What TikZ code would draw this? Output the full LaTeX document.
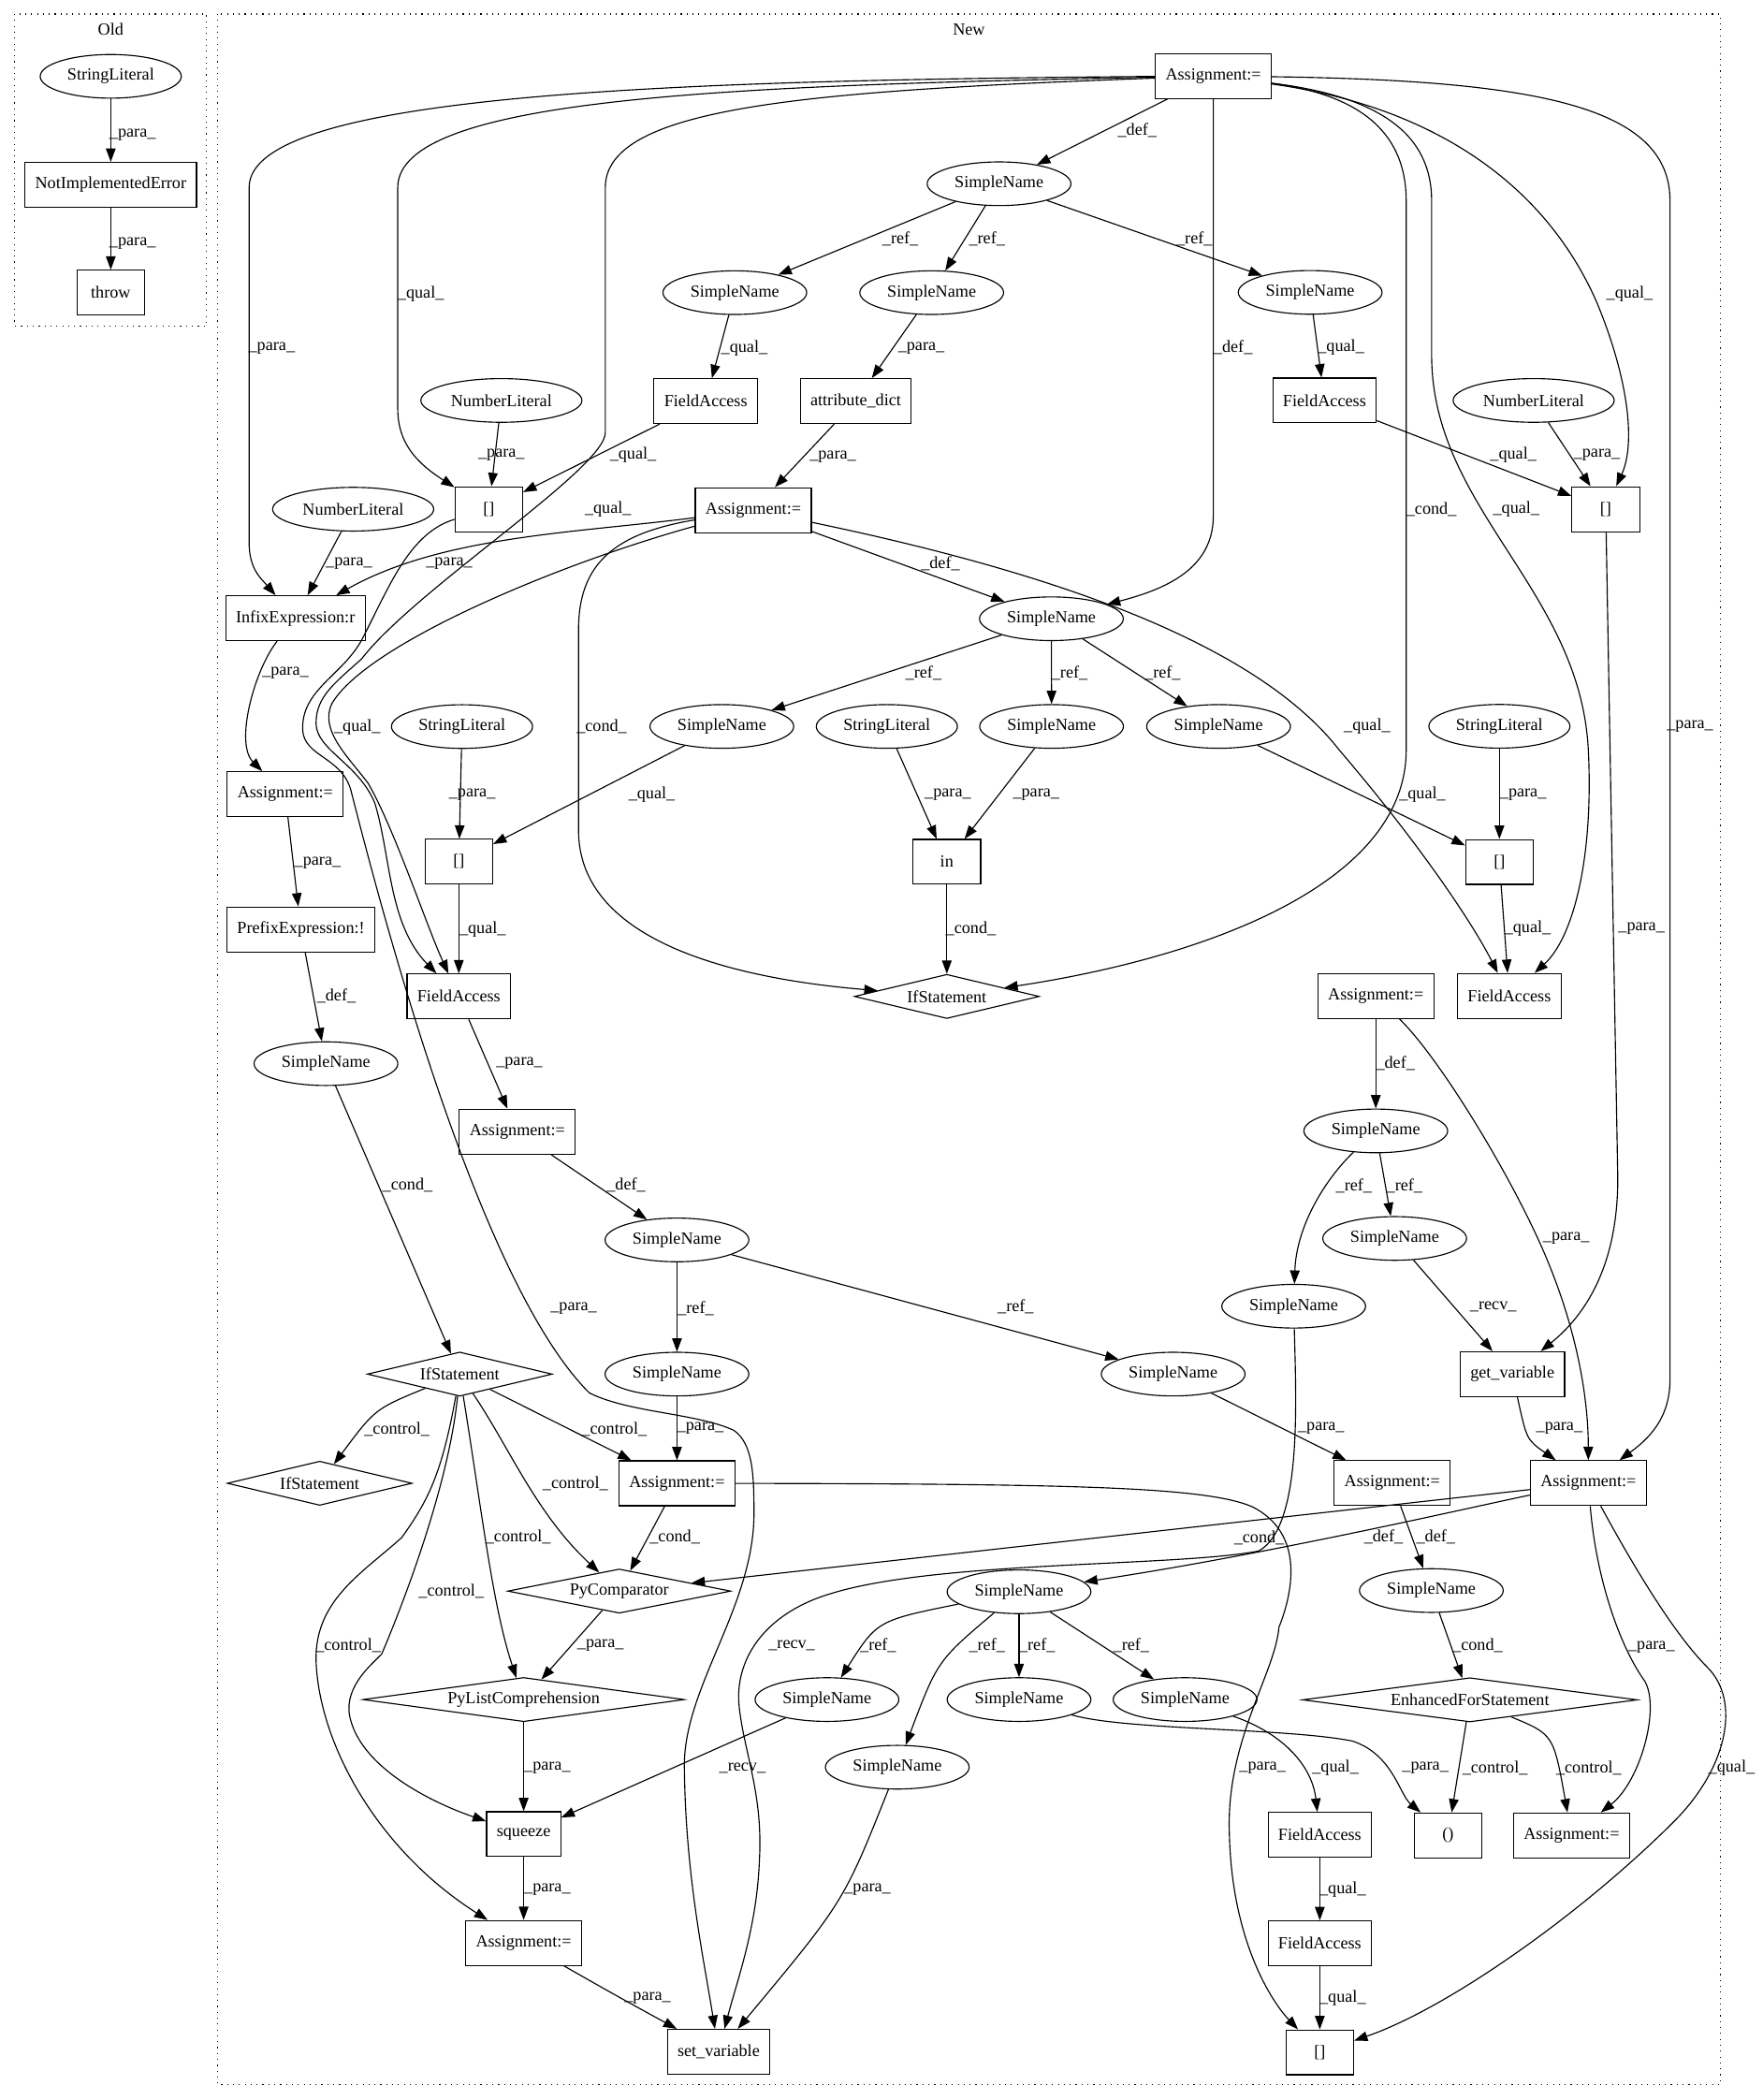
\documentclass[tikz,border=0pt]{standalone}
\usepackage{fontspec}
\setmainfont{Liberation Serif}
\usepackage{tikz}
\usetikzlibrary{arrows.meta,shapes.geometric}
\newcommand{\gvfont}{\fontsize{12.7pt}{15pt}\selectfont}
\tikzset{
  box/.style={draw,rectangle,line width=0.8pt,minimum width=50.5pt,
              minimum height=33.5pt,inner xsep=7.6pt,inner ysep=2pt,
              font=\gvfont},
  oval/.style={draw,ellipse,line width=0.8pt,minimum height=32.6pt,
               inner xsep=4.8pt,inner ysep=1pt,font=\gvfont},
  rhomb/.style={draw,diamond,line width=0.8pt,aspect=6,inner sep=0pt,
                minimum width=#1,minimum height=33pt,font=\gvfont},
  flow/.style={-{Triangle[length=10pt,width=7.2pt]},line width=0.8pt},
  lbl/.style={font=\gvfont,inner sep=0pt},
  cluster/.style={line width=0.8pt,dash pattern=on 0.8pt off 3.6pt}
}
\begin{document}
\begin{tikzpicture}[x=1pt,y=-1pt]
  \path[use as bounding box] (0,0) rectangle (1316,1568);
  \draw[cluster] (11,10.5) rectangle (154.2,243.4);
  \draw[cluster] (162.5,10.5) rectangle (1284.5,1556.6);
  \node[lbl] (oldTitle) at (82.7,22) {Old};
  \node[lbl] (newTitle) at (723.5,22) {New};

  \node[oval] (oStr) at (82.7,57) {StringLiteral};
  \node[box] (oNIE) at (82.7,138) {NotImplementedError};
  \node[box] (oThrow) at (82.7,218.5) {throw};

  \node[box] (asgTop) at (906,56.7) {Assignment:=};
  \node[oval] (snTop) at (746,137.2) {SimpleName};
  \node[oval] (snA) at (548.7,218.5) {SimpleName};
  \node[oval] (snB) at (695.7,218.5) {SimpleName};
  \node[oval] (snC) at (978.3,218.3) {SimpleName};
  \node[oval] (numA) at (374.4,299) {NumberLiteral};
  \node[box] (faA) at (527,299.5) {FieldAccess};
  \node[box] (attr) at (639,299.5) {attribute\_dict};
  \node[box] (faB) at (989,299) {FieldAccess};
  \node[oval] (numB) at (1145.2,299) {NumberLiteral};
  \node[oval] (numC) at (263.7,380.2) {NumberLiteral};
  \node[box] (idxA) at (365,380.2) {[]};
  \node[box] (asgDict) at (562.5,380.9) {Assignment:=};
  \node[box] (idxB) at (1199,380.2) {[]};
  \node[box] (infix) at (220.6,461.6) {InfixExpression:r};
  \node[oval] (snDict) at (785.1,462) {SimpleName};
  \node[oval] (strA) at (345,542.5) {StringLiteral};
  \node[oval] (snD) at (539,542.4) {SimpleName};
  \node[oval] (strB) at (662.2,542.4) {StringLiteral};
  \node[oval] (snE) at (785.2,542.4) {SimpleName};
  \node[oval] (snF) at (909.9,542.4) {SimpleName};
  \node[oval] (strC) at (1119.6,542.3) {StringLiteral};
  \node[box] (asgInfix) at (213,593) {Assignment:=};
  \node[box] (idxC) at (342.6,643.4) {[]};
  \node[box] (inOp) at (707,643.5) {in};
  \node[box] (idxD) at (1119.6,643.6) {[]};
  \node[box] (prefix) at (224.7,694) {PrefixExpression:!};
  \node[box] (faC) at (342.6,744) {FieldAccess};
  \node[rhomb=138pt] (ifA) at (707,744) {IfStatement};
  \node[box] (asgVar) at (1027.3,743.6) {Assignment:=};
  \node[box] (faD) at (1127,743.6) {FieldAccess};
  \node[oval] (snNot) at (243.4,794.2) {SimpleName};
  \node[box] (asgFa) at (386.3,845) {Assignment:=};
  \node[oval] (snVar) at (1027.3,844.4) {SimpleName};
  \node[oval] (snG) at (505.5,925.8) {SimpleName};
  \node[oval] (snH) at (1041.4,924.7) {SimpleName};
  \node[oval] (snI) at (966,975.3) {SimpleName};
  \node[rhomb=138pt] (ifB) at (343.3,1026) {IfStatement};
  \node[oval] (snJ) at (505.5,1026) {SimpleName};
  \node[oval] (snK) at (876,1026) {SimpleName};
  \node[box] (getVar) at (1129.3,1026) {get\_variable};
  \node[rhomb=138pt] (ifC) at (238.7,1107.5) {IfStatement};
  \node[box] (asgSel) at (505.5,1107.5) {Assignment:=};
  \node[box] (asgK) at (1039.6,1107.4) {Assignment:=};
  \node[box] (asgGet) at (1186,1107.4) {Assignment:=};
  \node[rhomb=166.6pt] (pyCmp) at (462.4,1188) {PyComparator};
  \node[oval] (snL) at (760.9,1188.5) {SimpleName};
  \node[oval] (snM) at (1068.8,1187.6) {SimpleName};
  \node[rhomb=240pt] (pyList) at (391,1269) {PyListComprehension};
  \node[oval] (snN) at (617.5,1269) {SimpleName};
  \node[oval] (snO) at (760.9,1269) {SimpleName};
  \node[oval] (snP) at (884.9,1269) {SimpleName};
  \node[rhomb=250pt] (forStmt) at (1097.6,1269.2) {EnhancedForStatement};
  \node[oval] (snQ) at (670,1319.5) {SimpleName};
  \node[box] (squeeze) at (391,1369.5) {squeeze};
  \node[box] (faE) at (985.5,1370) {FieldAccess};
  \node[box] (paren) at (1081.2,1370.4) {()};
  \node[box] (asgFor) at (1173.5,1370.4) {Assignment:=};
  \node[box] (asgSq) at (391,1450.7) {Assignment:=};
  \node[box] (faF) at (985.5,1451) {FieldAccess};
  \node[box] (setVar) at (536.6,1532) {set\_variable};
  \node[box] (idxE) at (985.5,1532.4) {[]};

  \draw[flow] (oStr) -- (oNIE) node[lbl] at (99,100.6) {\_para\_};
  \draw[flow] (oNIE) -- (oThrow) node[lbl] at (99,181.7) {\_para\_};

  \draw[flow] (asgTop) -- (snTop) node[lbl] at (849.2,97.4) {\_def\_};
  \draw[flow] (asgTop) .. controls (500,60) and (186,70) .. (186,140) -- (186,405)
    .. controls (186,425) and (195,432) .. (infix) node[lbl] at (202.9,260) {\_para\_};
  \draw[flow] (asgTop) .. controls (550,64) and (297,72) .. (297,140) -- (297,305)
    .. controls (297,330) and (310,345) .. (idxA) node[lbl] at (314.2,219.4) {\_qual\_};
  \draw[flow] (asgTop) .. controls (600,68) and (452,80) .. (452,140) -- (452,323)
    .. controls (452,350) and (310,440) .. (270,492) .. controls (250,510) and (236,520) .. (236,540)
    .. controls (236,560) and (268,570) .. (280,600) .. controls (292,640) and (290,690) .. (faC)
    node[lbl] at (454,380.2) {\_qual\_};
  \draw[flow] (asgTop) -- (906,385) .. controls (906,425) and (870,440) .. (snDict)
    node[lbl] at (920.7,259.3) {\_def\_};
  \draw[flow] (asgTop) .. controls (1010,70) and (1050,95) .. (1050,150) -- (1050,560)
    .. controls (1050,660) and (900,715) .. (ifA) node[lbl] at (1068.8,380.2) {\_cond\_};
  \draw[flow] (asgTop) .. controls (1030,72) and (1069,100) .. (1069,150) -- (1069,265)
    .. controls (1069,380) and (1180,440) .. (1186,560) .. controls (1190,640) and (1175,700) .. (faD)
    node[lbl] at (1132.2,380.2) {\_qual\_};
  \draw[flow] (asgTop) .. controls (1060,78) and (1150,130) .. (1192,225)
    .. controls (1215,280) and (1222,330) .. (idxB) node[lbl] at (1216.8,219.4) {\_qual\_};
  \draw[flow] (asgTop) .. controls (1150,60) and (1247,80) .. (1247,150) -- (1247,1030)
    .. controls (1247,1060) and (1230,1075) .. (asgGet) node[lbl] at (1262,542.3) {\_para\_};

  \draw[flow] (snTop) -- (snA) node[lbl] at (672.3,178.5) {\_ref\_};
  \draw[flow] (snTop) -- (snB) node[lbl] at (737,178.5) {\_ref\_};
  \draw[flow] (snTop) -- (snC) node[lbl] at (891.8,178.5) {\_ref\_};
  \draw[flow] (snA) -- (faA) node[lbl] at (555.8,259.8) {\_qual\_};
  \draw[flow] (snB) -- (attr) node[lbl] at (687.9,259.8) {\_para\_};
  \draw[flow] (snC) -- (faB) node[lbl] at (1001.4,259.5) {\_qual\_};
  \draw[flow] (faA) -- (idxA) node[lbl] at (472.7,339.6) {\_qual\_};
  \draw[flow] (numA) -- (idxA) node[lbl] at (374.4,339.6) {\_para\_};
  \draw[flow] (attr) -- (asgDict) node[lbl] at (621.9,341) {\_para\_};
  \draw[flow] (faB) -- (idxB) node[lbl] at (1130,339.6) {\_qual\_};
  \draw[flow] (numB) -- (idxB) node[lbl] at (1192.4,339.6) {\_para\_};
  \draw[flow] (numC) -- (infix) node[lbl] at (260.6,420.9) {\_para\_};

  \draw[flow] (asgDict) .. controls (430,398) and (330,400) .. (infix)
    node[lbl] at (335.4,420.9) {\_para\_};
  \draw[flow] (asgDict) .. controls (420,420) and (275,480) .. (248,525)
    .. controls (238,545) and (260,565) .. (275,585) .. controls (295,620) and (318,690) .. (faC)
    node[lbl] at (266.8,542.8) {\_qual\_};
  \draw[flow] (asgDict) .. controls (460,398) and (432,420) .. (432,470) -- (432,620)
    .. controls (432,700) and (540,730) .. (ifA) node[lbl] at (449.3,542.8) {\_cond\_};
  \draw[flow] (asgDict) -- (snDict) node[lbl] at (702.2,421) {\_def\_};
  \draw[flow] (asgDict) .. controls (750,420) and (930,470) .. (1000,560)
    .. controls (1060,630) and (1100,690) .. (faD) node[lbl] at (1020.8,542.3) {\_qual\_};

  \draw[flow] (infix) .. controls (190,500) and (175,555) .. (asgInfix)
    node[lbl] at (213.1,502.2) {\_para\_};
  \draw[flow] (asgInfix) -- (prefix) node[lbl] at (237.2,644.5) {\_para\_};
  \draw[flow] (prefix) -- (snNot) node[lbl] at (251.2,744) {\_def\_};
  \draw[flow] (snNot) -- (ifB) node[lbl] at (304.3,885) {\_cond\_};

  \draw[flow] (snDict) -- (snD) node[lbl] at (689.6,502.3) {\_ref\_};
  \draw[flow] (snDict) -- (snE) node[lbl] at (798.7,502.3) {\_ref\_};
  \draw[flow] (snDict) -- (snF) node[lbl] at (868.1,502.3) {\_ref\_};
  \draw[flow] (strA) -- (idxC) node[lbl] at (352.6,593.5) {\_para\_};
  \draw[flow] (snD) -- (idxC) node[lbl] at (486.7,593.5) {\_qual\_};
  \draw[flow] (idxC) -- (faC) node[lbl] at (360.4,694) {\_qual\_};
  \draw[flow] (faC) -- (asgFa) node[lbl] at (387.8,794.2) {\_para\_};
  \draw[flow] (asgFa) -- (snG) node[lbl] at (467.5,885) {\_def\_};
  \draw[flow] (strB) -- (inOp) node[lbl] at (707.8,593.5) {\_para\_};
  \draw[flow] (snE) -- (inOp) node[lbl] at (773.7,593.5) {\_para\_};
  \draw[flow] (inOp) -- (ifA) node[lbl] at (724.9,693.6) {\_cond\_};
  \draw[flow] (snF) -- (idxD) node[lbl] at (1062.1,593.5) {\_qual\_};
  \draw[flow] (strC) -- (idxD) node[lbl] at (1137.3,593.5) {\_para\_};
  \draw[flow] (idxD) -- (faD) node[lbl] at (1140.7,693.5) {\_qual\_};

  \draw[flow] (asgVar) -- (snVar) node[lbl] at (1042,794.3) {\_def\_};
  \draw[flow] (snVar) .. controls (990,880) and (968,915) .. (snI) node[lbl] at (1011,885.5) {\_ref\_};
  \draw[flow] (snVar) -- (snH) node[lbl] at (1048.7,885.5) {\_ref\_};
  \draw[flow] (snH) -- (getVar) node[lbl] at (1115,976) {\_recv\_};
  \draw[flow] (idxB) -- (1208,880) .. controls (1208,950) and (1180,985) .. (getVar)
    node[lbl] at (1225.7,693.5) {\_para\_};
  \draw[flow] (getVar) .. controls (1140,1075) .. (asgGet) node[lbl] at (1164.4,1066.4) {\_para\_};
  \draw[flow] (asgVar) .. controls (1075,790) and (1130,880) .. (1155,940)
    .. controls (1180,1000) and (1186,1050) .. (asgGet) node[lbl] at (1169.5,924.7) {\_para\_};

  \draw[flow] (snG) -- (snJ) node[lbl] at (519.5,976.8) {\_ref\_};
  \draw[flow] (snG) -- (snK) node[lbl] at (758.4,975.6) {\_ref\_};
  \draw[flow] (snJ) -- (asgSel) node[lbl] at (523,1066.5) {\_para\_};
  \draw[flow] (snK) -- (asgK) node[lbl] at (986.5,1066.5) {\_para\_};
  \draw[flow] (asgK) -- (snM) node[lbl] at (1072.1,1147.5) {\_def\_};
  \draw[flow] (snM) -- (forStmt) node[lbl] at (1103.3,1228.6) {\_cond\_};
  \draw[flow] (forStmt) -- (paren) node[lbl] at (1116.3,1320) {\_control\_};
  \draw[flow] (forStmt) .. controls (1160,1295) .. (asgFor) node[lbl] at (1186.4,1320) {\_control\_};

  \draw[flow] (ifB) .. controls (280,1052) .. (ifC) node[lbl] at (296.4,1067) {\_control\_};
  \draw[flow] (ifB) -- (asgSel) node[lbl] at (458.6,1067) {\_control\_};
  \draw[flow] (ifB) .. controls (380,1080) and (400,1130) .. (pyCmp)
    node[lbl] at (429.6,1107.5) {\_control\_};
  \draw[flow] (ifB) .. controls (360,1130) and (368,1200) .. (pyList)
    node[lbl] at (386.9,1147.9) {\_control\_};
  \draw[flow] (ifB) .. controls (335,1110) and (300,1200) .. (285,1235)
    .. controls (275,1245) and (255,1262) .. (262,1285) .. controls (272,1320) and (320,1345) .. (squeeze)
    node[lbl] at (337,1188) {\_control\_};
  \draw[flow] (ifB) .. controls (330,1100) and (320,1120) .. (300,1148)
    .. controls (270,1175) and (235,1195) .. (236,1240) .. controls (238,1300) and (280,1380) .. (asgSq)
    node[lbl] at (260,1228.4) {\_control\_};

  \draw[flow] (asgSel) -- (pyCmp) node[lbl] at (503.9,1147.9) {\_cond\_};
  \draw[flow] (asgSel) .. controls (800,1108) and (900,1110) .. (935,1125)
    .. controls (975,1145) and (965,1190) .. (955,1215) .. controls (952,1250) and (915,1300) .. (918,1370)
    .. controls (920,1450) and (950,1495) .. (idxE) node[lbl] at (942.7,1320.3) {\_para\_};
  \draw[flow] (asgGet) -- (pyCmp) node[lbl] at (940.2,1148) {\_cond\_};
  \draw[flow] (asgGet) .. controls (1100,1125) and (950,1160) .. (snL)
    node[lbl] at (1033.1,1147.5) {\_def\_};
  \draw[flow] (asgGet) .. controls (1192,1180) and (1210,1230) .. (1228,1255)
    .. controls (1240,1275) and (1225,1330) .. (asgFor) node[lbl] at (1233.2,1230) {\_para\_};
  \draw[flow] (asgGet) .. controls (1220,1170) and (1250,1220) .. (1275,1245)
    .. controls (1300,1270) and (1290,1320) .. (1250,1360) .. controls (1180,1430) and (1080,1500) .. (idxE)
    node[lbl] at (1293,1320) {\_qual\_};

  \draw[flow] (pyCmp) -- (pyList) node[lbl] at (448.4,1228.4) {\_para\_};
  \draw[flow] (pyList) -- (squeeze) node[lbl] at (408.7,1319.7) {\_para\_};
  \draw[flow] (squeeze) -- (asgSq) node[lbl] at (408.7,1410.6) {\_para\_};
  \draw[flow] (asgSq) .. controls (460,1490) .. (setVar) node[lbl] at (483.6,1491.9) {\_para\_};
  \draw[flow] (snN) -- (squeeze) node[lbl] at (554.4,1320) {\_recv\_};

  \draw[flow] (idxA) .. controls (305,398) and (290,440) .. (270,478)
    .. controls (255,505) and (225,515) .. (226,545) .. controls (227,565) and (255,565) .. (262,590)
    .. controls (290,700) and (360,960) .. (440,1040) .. controls (470,1055) and (520,1055) .. (548,1068)
    .. controls (562,1078) and (563,1100) .. (563,1130) .. controls (563,1200) and (510,1260) .. (511,1320)
    .. controls (512,1400) and (525,1460) .. (setVar) node[lbl] at (428.4,976.8) {\_para\_};
  \draw[flow] (snI) .. controls (968,1050) and (972,1140) .. (940,1158)
    .. controls (880,1170) and (700,1165) .. (620,1190) .. controls (570,1205) and (548,1240) .. (552,1275)
    .. controls (556,1310) and (570,1340) .. (567,1390) .. controls (565,1440) and (550,1480) .. (setVar)
    node[lbl] at (591.2,1228.4) {\_recv\_};
  \draw[flow] (snQ) .. controls (630,1420) .. (setVar) node[lbl] at (647.8,1411.2) {\_para\_};

  \draw[flow] (snL) .. controls (655,1210) .. (snN) node[lbl] at (655.7,1228.6) {\_ref\_};
  \draw[flow] (snL) .. controls (700,1240) .. (snQ) node[lbl] at (737,1228.6) {\_ref\_};
  \draw[flow] (snL) -- (snO) node[lbl] at (774.4,1228.6) {\_ref\_};
  \draw[flow] (snL) -- (snP) node[lbl] at (844.7,1228.6) {\_ref\_};
  \draw[flow] (snO) .. controls (840,1292) and (960,1290) .. (1010,1300)
    .. controls (1040,1310) and (1045,1340) .. (paren) node[lbl] at (1064.3,1320) {\_para\_};
  \draw[flow] (snP) .. controls (960,1295) and (980,1320) .. (faE) node[lbl] at (997.2,1320.3) {\_qual\_};
  \draw[flow] (faE) -- (faF) node[lbl] at (1002.6,1411.2) {\_qual\_};
  \draw[flow] (faF) -- (idxE) node[lbl] at (1002.6,1491.8) {\_qual\_};
\end{tikzpicture}
\end{document}
